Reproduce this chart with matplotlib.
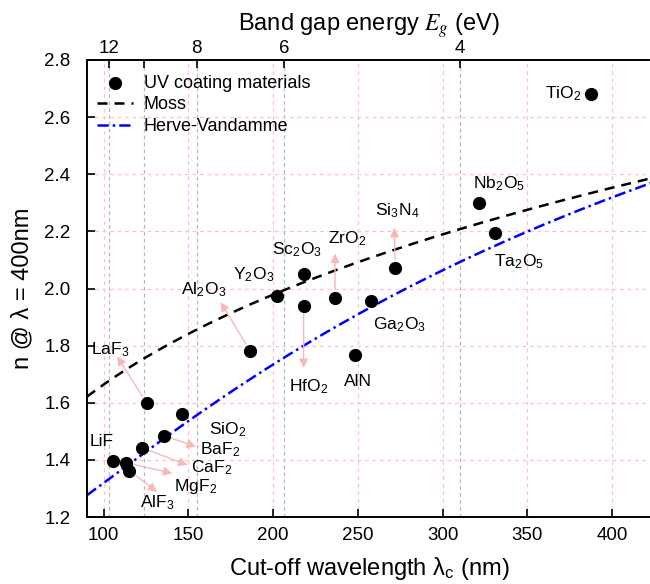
import re

import numpy as np
import matplotlib as mpl
import matplotlib.pyplot as plt


# ---- UV coating materials: cut-off wavelength (nm) and refractive index at 400 nm
materials = ["TiO2", "Nb2O5", "Ta2O5", "Si3N4", "ZrO2", "Sc2O3", "Y2O3", "Ga2O3",
             "HfO2", "Al2O3", "AlN", "LaF3", "SiO2", "BaF2", "CaF2", "LiF", "MgF2", "AlF3"]
cutoff_nm = [387.5, 321.5, 331.0, 272.0, 236.5, 218.0, 202.0, 258.0,
             218.0, 186.5, 248.5, 125.5, 146.0, 135.5, 122.5, 105.3, 113.3, 115.2]
n_400 = [2.68, 2.30, 2.195, 2.073, 1.968, 2.05, 1.974, 1.957,
         1.940, 1.781, 1.767, 1.598, 1.560, 1.485, 1.443, 1.397, 1.390, 1.362]

# band gap ticks on the top axis (eV); E = hc / lambda
bandgap_ticks = [12, 10, 8, 6, 4]
bandgap_labels = ["12", "", "8", "6", "4"]
HC_EV_NM = 1240.0

# empirical n(Eg) relations
MOSS_K = 95.0            # n^4 * Eg = 95 eV
HV_A, HV_B = 13.6, 3.4   # n^2 = 1 + (A / (Eg + B))^2

x_ticks = [100, 150, 200, 250, 300, 350, 400]
y_ticks = [1.2, 1.4, 1.6, 1.8, 2.0, 2.2, 2.4, 2.6, 2.8]

# label placement (text position, optional arrow head) in data units
label_layout = {
    "TiO2":  dict(pos=(382, 2.68), ha="right"),
    "Nb2O5": dict(pos=(333.5, 2.366)),
    "Ta2O5": dict(pos=(345, 2.092)),
    "Si3N4": dict(pos=(273.5, 2.271), arrow=(271.5, 2.212)),
    "ZrO2":  dict(pos=(243.5, 2.173), arrow=(236.5, 2.122)),
    "Sc2O3": dict(pos=(214, 2.135)),
    "Y2O3":  dict(pos=(188.5, 2.047)),
    "Ga2O3": dict(pos=(274.5, 1.872)),
    "HfO2":  dict(pos=(221, 1.655), arrow=(218, 1.722)),
    "Al2O3": dict(pos=(159, 1.995), arrow=(169, 1.952)),
    "AlN":   dict(pos=(250, 1.676)),
    "LaF3":  dict(pos=(104, 1.787), arrow=(108, 1.762)),
    "SiO2":  dict(pos=(173, 1.504)),
    "BaF2":  dict(pos=(169, 1.434), arrow=(154.5, 1.446)),
    "CaF2":  dict(pos=(164, 1.371), arrow=(149.5, 1.382)),
    "LiF":   dict(pos=(99, 1.464)),
    "MgF2":  dict(pos=(154, 1.306), arrow=(140.5, 1.353)),
    "AlF3":  dict(pos=(131.5, 1.249), arrow=(131.5, 1.288)),
}

PINK = "#ffc0cb"
ARROW_PINK = "#f7b8b8"


def chem(name: str) -> str:
    return re.sub(r"(\d+)", r"$_\\mathregular{\1}$", name)


mpl.rcParams.update({
    "font.family": ["Liberation Sans", "DejaVu Sans"],
    "mathtext.fontset": "stix",
    "axes.linewidth": 1.2,
})

fig = plt.figure(figsize=(6.5, 5.84), dpi=100)
ax = fig.add_axes([87 / 650, 67 / 584, 565 / 650, 457 / 584])
xlim = (90.2, 423.5)
ax.set_xlim(*xlim)
ax.set_ylim(1.2, 2.8)

# grids: pink for the wavelength / index ticks, grey for band gap ticks
ax.set_xticks(x_ticks)
ax.set_yticks(y_ticks)
ax.grid(True, color=PINK, lw=0.9, dashes=(3, 3), zorder=0)
for e in bandgap_ticks:
    ax.axvline(HC_EV_NM / e, color="#b8b8b8", lw=0.9, dashes=(3, 2.5), zorder=0.5)

# model curves
lam = np.linspace(xlim[0], xlim[1], 400)
eg = HC_EV_NM / lam
n_moss = (MOSS_K / eg) ** 0.25
n_hv = np.sqrt(1 + (HV_A / (eg + HV_B)) ** 2)
ax.plot(lam, n_moss, color="black", lw=1.8, dashes=(4, 2.8), label="Moss", zorder=2)
ax.plot(lam, n_hv, color="#0000ff", lw=1.8, dashes=(4.5, 1.6, 1, 1.6),
        label="Herve-Vandamme", zorder=2)

ax.scatter(cutoff_nm, n_400, s=72, color="black", zorder=4, label="UV coating materials")

for name, x, y in zip(materials, cutoff_nm, n_400):
    lay = label_layout[name]
    tx, ty = lay["pos"]
    ax.text(tx, ty, chem(name), fontsize=12.5, ha=lay.get("ha", "center"),
            va="center", zorder=5)
    if "arrow" in lay:
        ax.annotate("", xy=lay["arrow"], xytext=(x, y),
                    arrowprops=dict(arrowstyle="-|>", color=ARROW_PINK, lw=1.0,
                                    mutation_scale=13, shrinkA=6, shrinkB=0),
                    zorder=3)

ax.tick_params(direction="in", length=6, width=1.2, labelsize=13.5, pad=7)
ax.tick_params(axis="y", pad=12)
ax.tick_params(axis="x", top=False)
ax.set_yticklabels([f"{v:.1f}" for v in y_ticks])
ax.set_xlabel("Cut-off wavelength λ$_\\mathregular{c}$ (nm)", fontsize=17, labelpad=8)
ax.set_ylabel("n @ λ = 400nm", fontsize=17, labelpad=8)

top = ax.twiny()
top.set_xlim(*xlim)
top.set_xticks([HC_EV_NM / e for e in bandgap_ticks])
top.set_xticklabels(bandgap_labels)
top.tick_params(direction="in", length=6, width=1.2, labelsize=13.5, pad=2)
top.set_xlabel("Band gap energy $E_g$ (eV)", fontsize=17, labelpad=7)

handles, labels = ax.get_legend_handles_labels()
order = [2, 0, 1]
ax.legend([handles[i] for i in order], [labels[i] for i in order],
          loc="upper left", frameon=False, fontsize=13, handlelength=2.0,
          handletextpad=0.6, labelspacing=0.25, borderaxespad=0.3,
          bbox_to_anchor=(-0.005, 0.995))

fig.savefig("out.png", dpi=100)
